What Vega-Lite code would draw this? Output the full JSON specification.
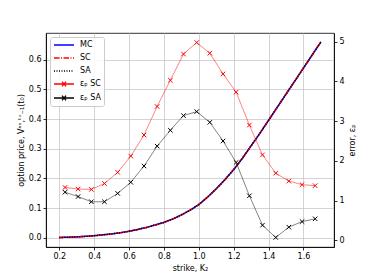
{
  "$schema": "https://vega.github.io/schema/vega-lite/v6.json",
  "width": 288,
  "height": 214,
  "autosize": {"type": "none"},
  "padding": {"left": 46, "top": 33, "right": 37, "bottom": 31},
  "config": {
    "font": "DejaVu Sans",
    "view": {"stroke": "black", "strokeWidth": 0.8},
    "axis": {
      "labelFont": "DejaVu Sans", "titleFont": "DejaVu Sans",
      "labelFontSize": 8, "titleFontSize": 8, "titleFontWeight": "normal",
      "labelColor": "black", "titleColor": "black",
      "domainColor": "black", "domainWidth": 0.8,
      "tickColor": "black", "tickWidth": 0.8, "tickSize": 3,
      "labelPadding": 2, "gridColor": "#c8c8c8", "gridWidth": 0.8
    },
    "legend": {
      "orient": "top-left", "offset": 4,
      "labelFont": "DejaVu Sans", "labelFontSize": 8, "labelColor": "black",
      "fillColor": "rgba(255,255,255,0.85)", "strokeColor": "#cccccc", "cornerRadius": 2,
      "padding": 3, "rowPadding": 4,
      "symbolSize": 64, "symbolType": "M-1,0H4", "symbolStrokeWidth": 1.3,
      "labelOffset": 17
    }
  },
  "datasets": {
    "curve": [
      {"K":0.20,"v":0.001,"s":"MC"},{"K":0.25,"v":0.002,"s":"MC"},{"K":0.30,"v":0.003,"s":"MC"},{"K":0.35,"v":0.005,"s":"MC"},{"K":0.40,"v":0.007,"s":"MC"},{"K":0.45,"v":0.010,"s":"MC"},{"K":0.50,"v":0.013,"s":"MC"},{"K":0.55,"v":0.017,"s":"MC"},{"K":0.60,"v":0.022,"s":"MC"},{"K":0.65,"v":0.028,"s":"MC"},{"K":0.70,"v":0.035,"s":"MC"},{"K":0.75,"v":0.043,"s":"MC"},{"K":0.80,"v":0.052,"s":"MC"},{"K":0.85,"v":0.063,"s":"MC"},{"K":0.90,"v":0.077,"s":"MC"},{"K":0.95,"v":0.093,"s":"MC"},{"K":1.00,"v":0.112,"s":"MC"},{"K":1.05,"v":0.137,"s":"MC"},{"K":1.10,"v":0.165,"s":"MC"},{"K":1.15,"v":0.196,"s":"MC"},{"K":1.20,"v":0.230,"s":"MC"},{"K":1.25,"v":0.268,"s":"MC"},{"K":1.30,"v":0.310,"s":"MC"},{"K":1.35,"v":0.352,"s":"MC"},{"K":1.40,"v":0.396,"s":"MC"},{"K":1.45,"v":0.440,"s":"MC"},{"K":1.50,"v":0.484,"s":"MC"},{"K":1.55,"v":0.528,"s":"MC"},{"K":1.60,"v":0.572,"s":"MC"},{"K":1.65,"v":0.616,"s":"MC"},{"K":1.70,"v":0.660,"s":"MC"},
      {"K":0.20,"v":0.001,"s":"SC"},{"K":0.25,"v":0.002,"s":"SC"},{"K":0.30,"v":0.003,"s":"SC"},{"K":0.35,"v":0.005,"s":"SC"},{"K":0.40,"v":0.007,"s":"SC"},{"K":0.45,"v":0.010,"s":"SC"},{"K":0.50,"v":0.013,"s":"SC"},{"K":0.55,"v":0.017,"s":"SC"},{"K":0.60,"v":0.022,"s":"SC"},{"K":0.65,"v":0.028,"s":"SC"},{"K":0.70,"v":0.035,"s":"SC"},{"K":0.75,"v":0.043,"s":"SC"},{"K":0.80,"v":0.052,"s":"SC"},{"K":0.85,"v":0.063,"s":"SC"},{"K":0.90,"v":0.077,"s":"SC"},{"K":0.95,"v":0.093,"s":"SC"},{"K":1.00,"v":0.112,"s":"SC"},{"K":1.05,"v":0.137,"s":"SC"},{"K":1.10,"v":0.165,"s":"SC"},{"K":1.15,"v":0.196,"s":"SC"},{"K":1.20,"v":0.230,"s":"SC"},{"K":1.25,"v":0.268,"s":"SC"},{"K":1.30,"v":0.310,"s":"SC"},{"K":1.35,"v":0.352,"s":"SC"},{"K":1.40,"v":0.396,"s":"SC"},{"K":1.45,"v":0.440,"s":"SC"},{"K":1.50,"v":0.484,"s":"SC"},{"K":1.55,"v":0.528,"s":"SC"},{"K":1.60,"v":0.572,"s":"SC"},{"K":1.65,"v":0.616,"s":"SC"},{"K":1.70,"v":0.660,"s":"SC"},
      {"K":0.20,"v":0.001,"s":"SA"},{"K":0.25,"v":0.002,"s":"SA"},{"K":0.30,"v":0.003,"s":"SA"},{"K":0.35,"v":0.005,"s":"SA"},{"K":0.40,"v":0.007,"s":"SA"},{"K":0.45,"v":0.010,"s":"SA"},{"K":0.50,"v":0.013,"s":"SA"},{"K":0.55,"v":0.017,"s":"SA"},{"K":0.60,"v":0.022,"s":"SA"},{"K":0.65,"v":0.028,"s":"SA"},{"K":0.70,"v":0.035,"s":"SA"},{"K":0.75,"v":0.043,"s":"SA"},{"K":0.80,"v":0.052,"s":"SA"},{"K":0.85,"v":0.063,"s":"SA"},{"K":0.90,"v":0.077,"s":"SA"},{"K":0.95,"v":0.093,"s":"SA"},{"K":1.00,"v":0.112,"s":"SA"},{"K":1.05,"v":0.137,"s":"SA"},{"K":1.10,"v":0.165,"s":"SA"},{"K":1.15,"v":0.196,"s":"SA"},{"K":1.20,"v":0.230,"s":"SA"},{"K":1.25,"v":0.268,"s":"SA"},{"K":1.30,"v":0.310,"s":"SA"},{"K":1.35,"v":0.352,"s":"SA"},{"K":1.40,"v":0.396,"s":"SA"},{"K":1.45,"v":0.440,"s":"SA"},{"K":1.50,"v":0.484,"s":"SA"},{"K":1.55,"v":0.528,"s":"SA"},{"K":1.60,"v":0.572,"s":"SA"},{"K":1.65,"v":0.616,"s":"SA"},{"K":1.70,"v":0.660,"s":"SA"}
    ],
    "err": [
      {"K":0.233,"e":1.33,"s":"εₚ SC"},{"K":0.308,"e":1.29,"s":"εₚ SC"},{"K":0.384,"e":1.28,"s":"εₚ SC"},{"K":0.459,"e":1.43,"s":"εₚ SC"},{"K":0.535,"e":1.71,"s":"εₚ SC"},{"K":0.610,"e":2.12,"s":"εₚ SC"},{"K":0.686,"e":2.65,"s":"εₚ SC"},{"K":0.761,"e":3.37,"s":"εₚ SC"},{"K":0.837,"e":4.03,"s":"εₚ SC"},{"K":0.912,"e":4.69,"s":"εₚ SC"},{"K":0.988,"e":4.98,"s":"εₚ SC"},{"K":1.063,"e":4.71,"s":"εₚ SC"},{"K":1.139,"e":4.19,"s":"εₚ SC"},{"K":1.214,"e":3.73,"s":"εₚ SC"},{"K":1.290,"e":2.90,"s":"εₚ SC"},{"K":1.365,"e":2.15,"s":"εₚ SC"},{"K":1.441,"e":1.69,"s":"εₚ SC"},{"K":1.516,"e":1.49,"s":"εₚ SC"},{"K":1.592,"e":1.40,"s":"εₚ SC"},{"K":1.667,"e":1.375,"s":"εₚ SC"},
      {"K":0.233,"e":1.21,"s":"εₚ SA"},{"K":0.308,"e":1.10,"s":"εₚ SA"},{"K":0.384,"e":0.97,"s":"εₚ SA"},{"K":0.459,"e":0.97,"s":"εₚ SA"},{"K":0.535,"e":1.18,"s":"εₚ SA"},{"K":0.610,"e":1.46,"s":"εₚ SA"},{"K":0.686,"e":1.87,"s":"εₚ SA"},{"K":0.761,"e":2.37,"s":"εₚ SA"},{"K":0.837,"e":2.77,"s":"εₚ SA"},{"K":0.912,"e":3.14,"s":"εₚ SA"},{"K":0.988,"e":3.24,"s":"εₚ SA"},{"K":1.063,"e":2.97,"s":"εₚ SA"},{"K":1.139,"e":2.50,"s":"εₚ SA"},{"K":1.214,"e":1.96,"s":"εₚ SA"},{"K":1.290,"e":1.12,"s":"εₚ SA"},{"K":1.365,"e":0.38,"s":"εₚ SA"},{"K":1.441,"e":0.07,"s":"εₚ SA"},{"K":1.516,"e":0.33,"s":"εₚ SA"},{"K":1.592,"e":0.47,"s":"εₚ SA"},{"K":1.667,"e":0.54,"s":"εₚ SA"}
    ]
  },
  "layer": [
    {
      "data": {"name": "curve"},
      "mark": {"type": "line", "strokeWidth": 1.5},
      "encoding": {
        "x": {"field": "K", "type": "quantitative",
              "scale": {"domain": [0.124, 1.775], "nice": false, "zero": false},
              "axis": {"title": "strike, K₂", "values": [0.2,0.4,0.6,0.8,1.0,1.2,1.4,1.6], "format": ".1f", "grid": true, "titlePadding": 4}},
        "y": {"field": "v", "type": "quantitative",
              "scale": {"domain": [-0.031, 0.69], "nice": false, "zero": false},
              "axis": {"title": "option price, Vᵃˢ,ᵗᵛ₋₁(t₀)", "values": [0,0.1,0.2,0.3,0.4,0.5,0.6], "format": ".1f", "grid": true,
                       "titleX": -25, "titleY": 107, "titleAngle": 270, "titleBaseline": "middle", "titleAlign": "center"}},
        "color": {"field": "s", "type": "nominal",
                  "scale": {"domain": ["MC","SC","SA","εₚ SC","εₚ SA"], "range": ["#0000ff","#ff0000","#000000","#ff0000","#000000"]},
                  "legend": {"title": null, "encode": {"symbols": {"update": {"shape": {"signal": "indexof(datum.value,'ε')>=0 ? 'M-1,0H4M1,-0.6L2,0.6M1,0.6L2,-0.6' : 'M-1,0H4'"}}}}}},
        "strokeDash": {"field": "s", "type": "nominal",
                  "scale": {"domain": ["MC","SC","SA","εₚ SC","εₚ SA"], "range": [[1,0],[5.5,1.5,1,1.5],[1,1.5],[1,0],[1,0]]},
                  "legend": {"title": null}}
      }
    },
    {
      "data": {"name": "err"},
      "mark": {"type": "line", "strokeWidth": 0.8, "strokeOpacity": 0.65},
      "encoding": {
        "x": {"field": "K", "type": "quantitative"},
        "y": {"field": "e", "type": "quantitative",
              "scale": {"domain": [-0.17, 5.22], "nice": false, "zero": false},
              "axis": {"orient": "right", "title": "error, εₚ", "values": [0,1,2,3,4,5], "format": "d", "grid": false,
                       "titleX": 18, "titleY": 107, "titleAngle": 270, "titleBaseline": "middle", "titleAlign": "center"}},
        "color": {"field": "s", "type": "nominal"},
        "strokeDash": {"field": "s", "type": "nominal"}
      }
    },
    {
      "data": {"name": "err"},
      "mark": {"type": "point", "shape": "M-1,-1L1,1M-1,1L1,-1", "filled": false, "size": 20, "strokeWidth": 1, "opacity": 1},
      "encoding": {
        "x": {"field": "K", "type": "quantitative"},
        "y": {"field": "e", "type": "quantitative",
              "scale": {"domain": [-0.17, 5.22], "nice": false, "zero": false},
              "axis": null},
        "stroke": {"field": "s", "type": "nominal", "scale": {"domain": ["εₚ SC","εₚ SA"], "range": ["#ff0000","#000000"]}, "legend": null}
      }
    }
  ],
  "resolve": {"scale": {"y": "independent"}}
}
